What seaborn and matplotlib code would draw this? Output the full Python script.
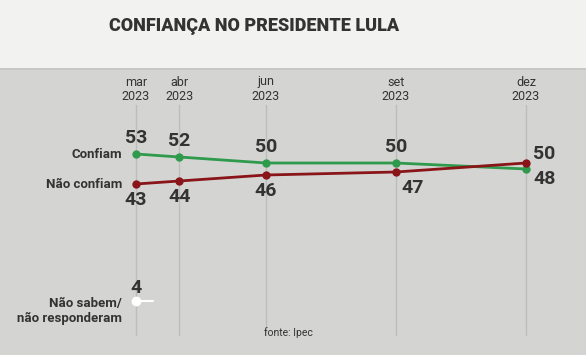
import matplotlib
matplotlib.use("Agg")
import matplotlib.pyplot as plt
import seaborn as sns
import pandas as pd

months = [3, 4, 6, 9, 12]
month_labels = ["mar", "abr", "jun", "set", "dez"]
year_label = "2023"
confiam = [53, 52, 50, 50, 48]
nao_confiam = [43, 44, 46, 47, 50]
nao_sabem = 4
series_names = ["Confiam", "Não confiam"]

df = pd.DataFrame({
    "mes": months * 2,
    "valor": confiam + nao_confiam,
    "serie": [series_names[0]] * 5 + [series_names[1]] * 5,
})

sns.set_theme(style="white")
plt.rcParams["font.family"] = ["Roboto", "DejaVu Sans"]

W, H = 586, 355
fig = plt.figure(figsize=(W / 100, H / 100), dpi=100)
fig.patch.set_facecolor("#f2f3f1")
top_px = 68
ax = fig.add_axes([0, 0, 1, (H - top_px) / H])
ax.set_facecolor("#d4d5d3")

# x: month 3 -> px 136, month 12 -> px 526
ppm = (526 - 136) / 9
ax.set_xlim(3 - 136 / ppm, 3 + (W - 136) / ppm)
# y: value 53 -> py 154, 3 px per point
ax.set_ylim(53 - (H - 154) / 3, 53 + (154 - top_px) / 3)
for s in ax.spines.values():
    s.set_visible(False)
ax.set_xticks([]); ax.set_yticks([])
ax.axhline(ax.get_ylim()[1], color="#c6c7c5", lw=2, zorder=1)

ybot = 20 / (H - top_px)
ytop = (H - 105) / (H - top_px)
for m in months:
    ax.axvline(m, ymin=ybot, ymax=ytop, color="#bdbebc", lw=1, zorder=0)

colors = {"Confiam": "#2f9a4c", "Não confiam": "#8a1518"}
sns.lineplot(data=df, x="mes", y="valor", hue="serie", palette=colors,
             marker="o", markersize=6, markeredgewidth=0, linewidth=2,
             legend=False, ax=ax, zorder=3)

# nao sabem point
ax.plot([months[0], months[0] + 0.4], [nao_sabem, nao_sabem], color="white", lw=1.5, zorder=3)
ax.plot([months[0]], [nao_sabem], "o", color="white", ms=6, zorder=4)
ax.annotate(str(nao_sabem), (months[0], nao_sabem), xytext=(0, 3), textcoords="offset points",
            ha="center", va="bottom", fontsize=14, fontweight="bold", color="#333333")

txt = "#333333"
# value labels
offs_c = [(0, 5, "center", "bottom"), (0, 5, "center", "bottom"), (0, 5, "center", "bottom"),
          (0, 5, "center", "bottom"), (5, -1, "left", "top")]
offs_n = [(0, -5, "center", "top"), (0, -5, "center", "top"), (0, -5, "center", "top"),
          (4, -5, "left", "top"), (5, 0, "left", "bottom")]
for m, v, (dx, dy, ha, va) in zip(months, confiam, offs_c):
    ax.annotate(str(v), (m, v), xytext=(dx, dy), textcoords="offset points",
                ha=ha, va=va, fontsize=14, fontweight="bold", color=txt)
for m, v, (dx, dy, ha, va) in zip(months, nao_confiam, offs_n):
    ax.annotate(str(v), (m, v), xytext=(dx, dy), textcoords="offset points",
                ha=ha, va=va, fontsize=14, fontweight="bold", color=txt)

# series labels
ax.annotate(series_names[0], (months[0], confiam[0]), xytext=(-10, 0), textcoords="offset points",
            ha="right", va="center", fontsize=9.5, fontweight="bold", color=txt)
ax.annotate(series_names[1], (months[0], nao_confiam[0]), xytext=(-10, 0), textcoords="offset points",
            ha="right", va="center", fontsize=9.5, fontweight="bold", color=txt)
ax.annotate("Não sabem/\nnão responderam", (months[0], nao_sabem), xytext=(-10, 3),
            textcoords="offset points", ha="right", va="top", fontsize=9.5, fontweight="bold",
            color=txt, linespacing=1.2)

# month labels
for m, lab in zip(months, month_labels):
    ax.text(m, 1 - (82 - top_px) / (H - top_px), lab, transform=ax.get_xaxis_transform(),
            ha="center", va="center", fontsize=9, color=txt)
    ax.text(m, 1 - (97 - top_px) / (H - top_px), year_label, transform=ax.get_xaxis_transform(),
            ha="center", va="center", fontsize=9, color=txt)

fig.text(288 / W, 1 - 333 / H, "fonte: Ipec", ha="center", va="center", fontsize=7.5, color=txt)
fig.text(254 / W, 1 - 26 / H, "CONFIANÇA NO PRESIDENTE LULA", ha="center", va="center",
         fontsize=13, fontweight="black", color="#333333")

fig.savefig("out.png", dpi=100, facecolor=fig.get_facecolor())
